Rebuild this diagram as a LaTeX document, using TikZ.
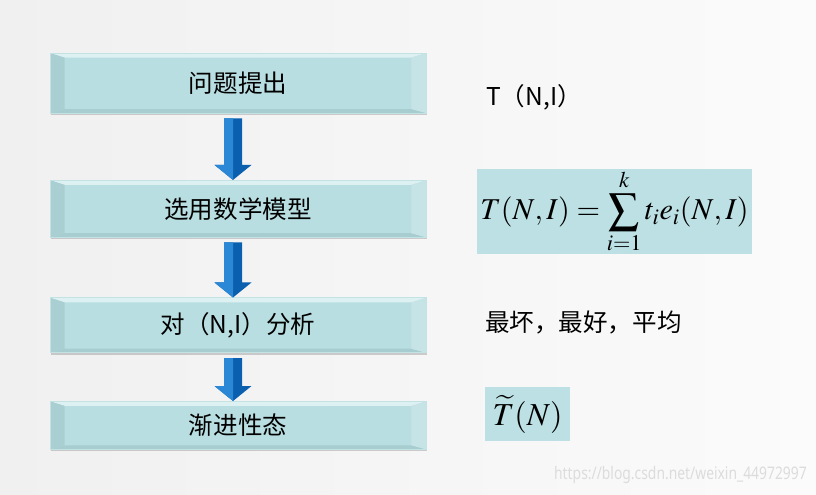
\documentclass[tikz,border=0pt]{standalone}
\usepackage{mathptmx}
\usepackage[no-math]{fontspec}
\setmainfont{Noto Sans CJK SC}
\setsansfont{Noto Sans}
\usetikzlibrary{positioning,calc,shadows}
\definecolor{bgleft}{HTML}{F0F0F0}
\definecolor{bgright}{HTML}{FBFBFB}
\definecolor{boxface}{HTML}{B8DEE1}
\definecolor{bevtop}{HTML}{DDF1F2}
\definecolor{bevleft}{HTML}{A9CFD3}
\definecolor{bevright}{HTML}{C6E4E6}
\definecolor{bevbot}{HTML}{A7CDD1}
\definecolor{edgec}{HTML}{C3E2E4}
\definecolor{mathbg}{HTML}{BCE0E3}
\definecolor{arrowdark}{HTML}{0B5FAF}
\definecolor{arrowlight}{HTML}{2A88D6}
\definecolor{wmark}{HTML}{DCDCDC}
\newcommand\stagefont{\fontsize{18.4}{22}\selectfont}
\newcommand\mathfnt{\fontsize{22.7}{27}\selectfont}
\newcommand\tildefnt{\fontsize{24}{28}\selectfont}

\begin{document}
\begin{tikzpicture}[x=0.75pt,y=-0.75pt,
  stage/.style={draw=edgec, line width=0.4pt, fill=boxface, inner sep=0pt,
    minimum width=282pt, font=\stagefont,
    drop shadow={shadow xshift=0.8pt, shadow yshift=-1.5pt, opacity=0.3, fill=black!60},
    path picture={
      \fill[bevtop] (path picture bounding box.north west) -- (path picture bounding box.north east)
        -- ([xshift=-11pt,yshift=-3.5pt]path picture bounding box.north east)
        -- ([xshift=11pt,yshift=-3.5pt]path picture bounding box.north west) -- cycle;
      \fill[bevbot] (path picture bounding box.south west) -- (path picture bounding box.south east)
        -- ([xshift=-11pt,yshift=3pt]path picture bounding box.south east)
        -- ([xshift=11pt,yshift=3pt]path picture bounding box.south west) -- cycle;
      \fill[bevleft] (path picture bounding box.north west) -- (path picture bounding box.south west)
        -- ([xshift=11pt,yshift=3pt]path picture bounding box.south west)
        -- ([xshift=11pt,yshift=-3.5pt]path picture bounding box.north west) -- cycle;
      \fill[bevright] (path picture bounding box.north east) -- (path picture bounding box.south east)
        -- ([xshift=-11pt,yshift=3pt]path picture bounding box.south east)
        -- ([xshift=-11pt,yshift=-3.5pt]path picture bounding box.north east) -- cycle;
    }},
  note/.style={anchor=west, inner sep=0pt, font=\stagefont},
  mathbox/.style={fill=mathbg, inner sep=0pt}]

\useasboundingbox (0,0) rectangle (816,494);
\fill[left color=bgleft, right color=bgright] (0,0) rectangle (816,494);

\node[stage, minimum height=45pt] (q1) at (238,83) {问题提出};
\node[stage, minimum height=42.75pt, below=50pt of q1] (q2) {选用数学模型};
\node[stage, minimum height=41.25pt, below=45pt of q2] (q3) {对（N,I）分析};
\node[stage, minimum height=36pt, below=36pt of q3] (q4) {渐进性态};

\foreach \a/\b in {q1/q2,q2/q3,q3/q4}{
  \fill[arrowdark] ($(\a.south)+(-14,5)$) -- ($(\a.south)+(4,5)$)
    -- ($(\a.south |- \b.north)+(4,-15)$) -- ($(\a.south |- \b.north)+(13.5,-15)$)
    -- ($(\a.south |- \b.north)+(-5,0)$) -- ($(\a.south |- \b.north)+(-23.5,-15)$)
    -- ($(\a.south |- \b.north)+(-14,-15)$) -- cycle;
  \fill[arrowlight] ($(\a.south)+(-14,5)$) -- ($(\a.south)+(-5,5)$)
    -- ($(\a.south |- \b.north)+(-5,0)$) -- ($(\a.south |- \b.north)+(-23.5,-15)$)
    -- ($(\a.south |- \b.north)+(-14,-15)$) -- cycle;
}

\node[note] (t1) at (486,97) {T（N,I）};
\node[mathbox, font=\mathfnt, minimum width=206.25pt, minimum height=63.75pt] (f1) at (614.5,211.5)
  {$\displaystyle T(N,I)=\sum_{i=1}^{k}t_ie_i(N,I)$};
\node[note] (t3) at (485,322) {最坏，最好，平均};
\node[mathbox, font=\tildefnt, minimum width=63.75pt, minimum height=40.5pt] (f2) at (527.5,414)
  {$\widetilde{T}(N)$};

\node[anchor=east, inner sep=0pt, text=wmark, font=\sffamily\fontsize{13}{15}\selectfont] (wm) at (807,475)
  {\scalebox{0.8}[1]{https://blog.csdn.net/weixin\_44972997}};
\end{tikzpicture}
\end{document}
